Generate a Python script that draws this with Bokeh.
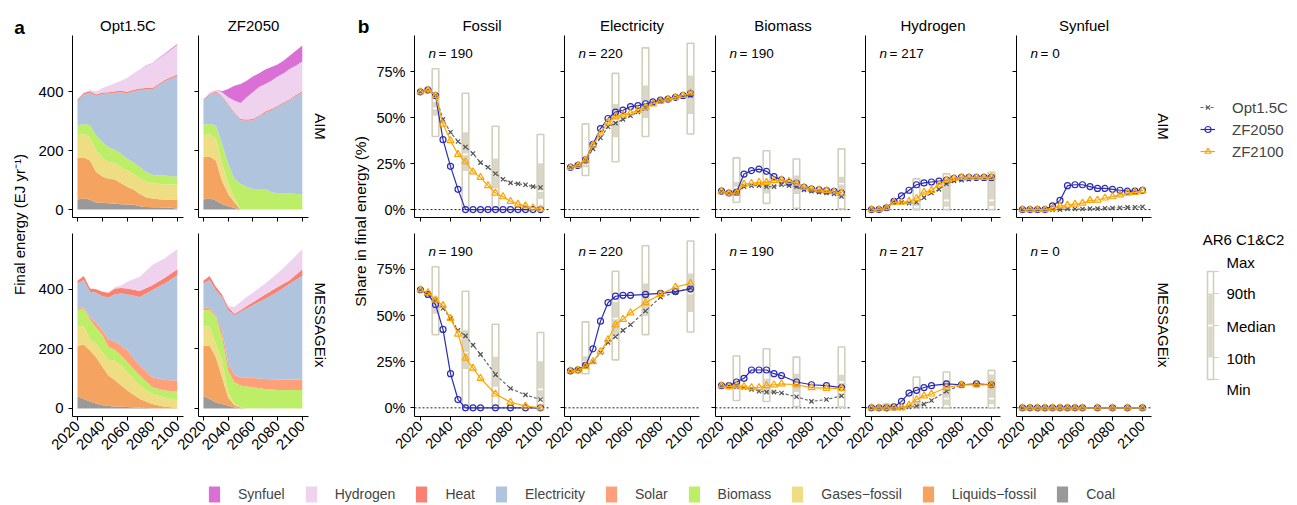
import math
from bokeh.plotting import figure
from bokeh.layouts import row, column
from bokeh.models import (ColumnDataSource, Label, Span, FixedTicker, Legend,
                          LegendItem, Range1d, PrintfTickFormatter, Title)
from bokeh.core.properties import value
from bokeh.embed import file_html
from bokeh.resources import INLINE

FONT = "Liberation Sans"

# ---------------------------------------------------------------- data
YEARS_AIM = [2020, 2025, 2030, 2035, 2040, 2045, 2050, 2055, 2060, 2065,
             2070, 2075, 2080, 2085, 2090, 2095, 2100]
YEARS_MSG = [2020, 2025, 2030, 2035, 2040, 2045, 2050, 2055, 2060, 2070,
             2080, 2090, 2100]

CARRIERS = ["Coal", "Liquids\u2212fossil", "Gases\u2212fossil", "Biomass", "Solar",
            "Electricity", "Heat", "Hydrogen", "Synfuel"]
CARRIER_COLORS = ["#999999", "#F4A460", "#EEDD82", "#BCEE68", "#FFA07A",
                  "#B0C4DE", "#FA8072", "#EED2EE", "#DA70D6"]
LEGEND_ORDER = ["Synfuel", "Hydrogen", "Heat", "Electricity", "Solar", "Biomass",
                "Gases\u2212fossil", "Liquids\u2212fossil", "Coal"]

# final energy by carrier (EJ/yr), panel a
AIM_OPT_COAL = [34, 38, 33, 24, 23, 21, 20, 18, 17, 16, 11, 9, 8, 8, 7, 6, 3]
AIM_OPT_LIQ = [141, 139, 133, 103, 89, 83, 82, 71, 59, 52, 42, 33, 29, 27, 27, 27, 29]
AIM_OPT_GAS = [76, 79, 79, 73, 65, 56, 56, 54, 56, 53, 53, 53, 52, 52, 51, 52, 52]
AIM_OPT_BIO = [34, 34, 42, 51, 51, 51, 44, 46, 40, 39, 37, 32, 29, 28, 30, 28, 27]
AIM_OPT_SOL = [0, 0, 0, 0, 0, 0, 0, 0, 0, 0, 0, 0, 0, 0, 0, 0, 0]
AIM_OPT_ELE = [83, 100, 109, 134, 164, 182, 194, 209, 222, 241, 262, 280, 289, 306, 319, 331, 342]
AIM_OPT_HEA = [5, 5, 5, 5, 5, 5, 5, 5, 5, 5, 5, 5, 5, 5, 5, 5, 5]
AIM_OPT_H2 = [0, 2, 4, 10, 15, 22, 27, 34, 48, 56, 65, 75, 84, 86, 87, 93, 100]
AIM_OPT_SYN = [0, 0, 0, 0, 0, 0, 0, 0, 0, 0, 0, 1, 1, 2, 2, 3, 3]

AIM_ZF_COAL = [34, 38, 31, 19, 11, 5, 0, 0, 0, 0, 0, 0, 0, 0, 0, 0, 0]
AIM_ZF_LIQ = [143, 142, 135, 79, 42, 20, 0, 0, 0, 0, 0, 0, 0, 0, 0, 0, 0]
AIM_ZF_GAS = [74, 76, 74, 60, 35, 15, 0, 0, 0, 0, 0, 0, 0, 0, 0, 0, 0]
AIM_ZF_BIO = [37, 34, 45, 65, 67, 64, 87, 76, 70, 70, 70, 59, 55, 55, 55, 53, 51]
AIM_ZF_SOL = [0, 0, 0, 0, 0, 0, 0, 0, 0, 0, 0, 0, 0, 0, 0, 0, 0]
AIM_ZF_ELE = [82, 98, 112, 159, 199, 222, 216, 225, 233, 245, 258, 278, 294, 305, 316, 332, 346]
AIM_ZF_HEA = [4, 4, 4, 4, 4, 4, 4, 4, 4, 4, 4, 4, 4, 4, 4, 4, 4]
AIM_ZF_H2 = [0, 6, 5, 12, 23, 40, 54, 76, 91, 96, 94, 96, 98, 98, 102, 99, 101]
AIM_ZF_SYN = [0, 0, 0, 3, 28, 50, 65, 56, 53, 47, 49, 46, 41, 43, 45, 51, 54]

MSG_OPT_COAL = [41, 32, 23, 17, 11, 8, 7, 6, 5, 2, 1, 0, 0]
MSG_OPT_LIQ = [169, 183, 172, 155, 128, 102, 89, 71, 55, 30, 14, 6, 2]
MSG_OPT_GAS = [66, 61, 39, 45, 50, 53, 65, 67, 62, 45, 33, 31, 26]
MSG_OPT_BIO = [54, 60, 65, 55, 57, 43, 36, 34, 33, 33, 23, 23, 29]
MSG_OPT_SOL = [6, 5, 8, 15, 17, 26, 29, 34, 40, 34, 34, 36, 37]
MSG_OPT_ELE = [84, 91, 85, 102, 114, 141, 158, 174, 189, 231, 293, 324, 354]
MSG_OPT_HEA = [9, 13, 11, 12, 15, 16, 19, 19, 19, 20, 16, 19, 20]
MSG_OPT_H2 = [0, 0, 0, 0, 0, 2, 4, 9, 23, 48, 68, 66, 67]
MSG_OPT_SYN = [0, 0, 0, 0, 0, 0, 0, 0, 0, 0, 0, 0, 0]

MSG_ZF_COAL = [41, 32, 20, 15, 9, 3, 0, 0, 0, 0, 0, 0, 0]
MSG_ZF_LIQ = [169, 180, 152, 90, 28, 9, 3, 0, 0, 0, 0, 0, 0]
MSG_ZF_GAS = [66, 64, 45, 56, 17, 5, 0, 0, 0, 0, 0, 0, 0]
MSG_ZF_BIO = [54, 56, 91, 79, 73, 71, 74, 74, 71, 65, 62, 62, 62]
MSG_ZF_SOL = [6, 9, 5, 23, 23, 26, 28, 29, 32, 34, 35, 35, 35]
MSG_ZF_ELE = [84, 91, 85, 112, 180, 199, 219, 233, 244, 270, 295, 323, 349]
MSG_ZF_HEA = [9, 13, 11, 8, 10, 5, 6, 8, 10, 14, 16, 12, 22]
MSG_ZF_H2 = [0, 0, 0, 0, 4, 23, 28, 31, 32, 37, 46, 61, 67]
MSG_ZF_SYN = [0, 0, 0, 0, 0, 0, 0, 0, 0, 0, 0, 0, 0]

# shares in final energy (%), panel b
SCENARIOS = ["Opt1.5C", "ZF2050", "ZF2100"]
AIM_FOSSIL = {"Opt1.5C": [64, 65, 62, 49, 42, 37, 34, 30.5, 25.5, 23, 19.5, 16.5, 14.5, 14, 13.5, 12.5, 12],
              "ZF2050": [64, 65, 62, 38, 23.5, 11, 0, 0, 0, 0, 0, 0, 0, 0, 0, 0, 0],
              "ZF2100": [64, 65, 62, 46.5, 37.5, 30, 26, 20.5, 17.5, 13, 9, 7, 4.5, 3, 2, 1, 0.3]}
AIM_ELEC = {"Opt1.5C": [23, 24, 26.5, 33, 39, 45, 47, 49, 51, 53, 55, 57.5, 59, 60, 61, 61.5, 62],
            "ZF2050": [23, 24, 27, 35.5, 44, 49.5, 53, 54, 56, 56.5, 57.5, 58.5, 59.5, 60, 61, 62, 63],
            "ZF2100": [23, 24, 27, 35, 41.5, 47.5, 50.5, 51.5, 52.5, 54, 55.5, 57.5, 59, 60, 61, 62, 63.5]}
AIM_BIO = {"Opt1.5C": [10, 9, 9, 12.5, 13, 13, 12.5, 12.5, 13.5, 13, 12.5, 10.7, 10, 9.5, 9, 8.5, 7.2],
           "ZF2050": [10, 9, 9.4, 19.3, 21.2, 22, 20.8, 17.9, 16.1, 14.8, 14.3, 12.1, 11.2, 10.7, 10.3, 9.9, 9],
           "ZF2100": [10, 9, 9, 13.9, 14.3, 14.8, 14.8, 15.7, 16.1, 15.4, 14.3, 12.1, 11.2, 10.7, 10.3, 9.7, 8.9]}
AIM_H2 = {"Opt1.5C": [0, 0, 1, 4, 4, 3.5, 4, 6.5, 9, 11, 14, 15.5, 16, 16.5, 17, 17, 17],
          "ZF2050": [0, 0, 1, 4.5, 7.5, 10.5, 13.5, 14.5, 15, 15.5, 16, 17, 17.5, 17.5, 17.5, 17.5, 17.5],
          "ZF2100": [0, 0, 1, 4, 4, 4.5, 6, 9.5, 10.5, 13.5, 16, 17, 17.5, 17.5, 17.5, 17.5, 17.5]}
AIM_SYN = {"Opt1.5C": [0, 0, 0, 0, 0, 0, 0.3, 0.3, 0.3, 0.5, 0.5, 0.7, 0.9, 1, 1.2, 1.3, 1.5],
           "ZF2050": [0, 0, 0, 0, 2, 5, 13, 13.5, 13.5, 12.5, 11.5, 11.5, 11, 10.5, 10, 10, 10.5],
           "ZF2100": [0, 0, 0, 0, 0.7, 2, 2.5, 3, 3.5, 5, 5.2, 6.3, 7, 8, 9, 9.4, 10.3]}

MSG_FOSSIL = {"Opt1.5C": [64, 62, 58.5, 54, 48.5, 42, 39, 34, 29, 18, 10.5, 7, 4.5],
              "ZF2050": [64, 61.5, 56, 42.5, 18.5, 4.5, 0, 0, 0, 0, 0, 0, 0],
              "ZF2100": [64, 62.5, 58.5, 55.5, 48.5, 40, 27, 21.5, 16, 7.5, 3, 1, 0]}
MSG_ELEC = {"Opt1.5C": [20, 21, 22.5, 25, 30, 35.5, 38.5, 42, 45, 52.5, 60, 62.5, 65],
            "ZF2050": [20, 20.5, 23, 32, 47, 57, 60.5, 61, 61, 61.5, 62, 63, 64.5],
            "ZF2100": [20, 20.5, 22.5, 25, 30.5, 37, 45, 48, 51.5, 57, 61.5, 65.5, 67.5]}
MSG_BIO = {"Opt1.5C": [12, 11.5, 11.5, 11, 10, 9, 8.5, 8.5, 8, 6, 3.5, 4.5, 6.5],
           "ZF2050": [12, 12, 14, 16, 20.5, 20.5, 20.5, 18.5, 17.5, 14, 12.5, 12, 11],
           "ZF2100": [12, 11.5, 12, 11.5, 11, 11, 12, 12.5, 13, 12.5, 11, 10.5, 10.5]}
MSG_H2 = {"Opt1.5C": [0, 0, 0, 0, 0, 0.5, 1, 2, 4, 9, 12.5, 12.5, 12.5],
          "ZF2050": [0, 0, 0, 0.5, 3.5, 8, 9.5, 11, 12, 13, 12.5, 13, 12.5],
          "ZF2100": [0, 0, 0, 0, 0, 1.5, 4.5, 6.5, 7.5, 11, 12.5, 12.5, 12.5]}
MSG_SYN = {"Opt1.5C": [0, 0, 0, 0, 0, 0, 0, 0, 0, 0, 0, 0, 0],
           "ZF2050": [0, 0, 0, 0, 0, 0, 0, 0, 0, 0, 0, 0, 0],
           "ZF2100": [0, 0, 0, 0, 0, 0, 0, 0, 0, 0, 0, 0, 0]}

# AR6 C1&C2 ranges (%)
BOX_FOSSIL = {"year": [2030, 2050, 2070, 2100], "min": [39.7, 1.3, 1.3, 0.5],
              "p10": [51, 21, 11.4, 5.8], "med": [55, 30, 18.5, 10],
              "p90": [58.5, 42, 27.7, 25.2], "max": [76.5, 63.2, 45.3, 40.8]}
BOX_ELEC = {"year": [2030, 2050, 2070, 2100], "min": [18.5, 26, 39.7, 41.1],
            "p10": [23, 39.3, 49.8, 52], "med": [25, 48.4, 58.3, 62],
            "p90": [28, 57.4, 67.4, 72.8], "max": [46.6, 74, 87.9, 90.4]}
BOX_BIO = {"year": [2030, 2050, 2070, 2100], "min": [4, 3.4, 0.7, 0.4],
           "p10": [10, 8.7, 8.5, 10.3], "med": [12, 12, 13, 14],
           "p90": [15, 15.8, 18.5, 17.9], "max": [28.1, 32, 27.5, 33]}
BOX_H2 = {"year": [2030, 2050, 2070, 2100], "min": [0, 0, 0, 0],
          "p10": [0, 0.5, 1.5, 2], "med": [0.3, 1.5, 5, 5],
          "p90": [1, 3.5, 15, 18], "max": [2, 16.7, 19.4, 20.3]}

B_TITLES = ["Fossil", "Electricity", "Biomass", "Hydrogen", "Synfuel"]
N_COUNTS = [190, 220, 190, 217, 0]
B_BOXES = [BOX_FOSSIL, BOX_ELEC, BOX_BIO, BOX_H2, None]

X_TICKS = [2020, 2040, 2060, 2080, 2100]
A_Y_TICKS = [0, 200, 400]
B_Y_TICKS = [0, 25, 50, 75]

# ---------------------------------------------------------------- style / layout
BOX_LINE = "#D3CFBD"
BOX_FILL = "#DAD7C8"
STYLE = {"Opt1.5C": dict(line="#6E6E6E", mcolor="#555555", marker="x", size=6, dash="3 2"),
         "ZF2050": dict(line="#2B2BB5", mcolor="#2B2BB5", marker="circle", size=6, dash="solid"),
         "ZF2100": dict(line="#FFA500", mcolor="#FFA500", marker="triangle", size=7, dash="solid")}

TOP_T, TOP_FH, TOP_B = 35, 182, 13
BOT_T, BOT_FH, BOT_B = 3, 183, 50
A_FW, B_FW = 111, 135
A_X = (2016, 2105)
B_X = (2016, 2106)
A_Y = [(-27, 590), (-27, 588)]
B_Y = [(-4.3, 94.6), (-4.7, 94.5)]
A_LR = [(38, 7), (8, 23)]
B_LR = [(42, 7), (8, 7), (9, 7), (8, 8), (8, 34)]
ROWS_TBH = [(TOP_T, TOP_FH, TOP_B), (BOT_T, BOT_FH, BOT_B)]
A_SPILL = 24   # room for rotated year labels reaching into the left neighbour
B_SPILL = 22


def base_fig(w, h, xr, yr, l, r, t, b, axes=True, transparent=False, spill=0):
    kw = {} if axes else dict(x_axis_type=None, y_axis_type=None)
    if spill:
        kw["styles"] = {"margin-left": "-%dpx" % spill}
    p = figure(width=w + spill, height=h, x_range=Range1d(*xr), y_range=Range1d(*yr),
               output_backend="svg", toolbar_location=None,
               min_border_left=l + spill, min_border_right=r, min_border_top=t,
               min_border_bottom=b, **kw)
    p.outline_line_color = None
    if transparent:
        p.border_fill_color = None
        p.background_fill_color = None
    else:
        p.border_fill_color = "white"
        p.background_fill_color = "white"
    if axes:
        p.grid.visible = False
    return p


def style_axes(p, show_x, show_y, font_size):
    for ax in (p.xaxis[0], p.yaxis[0]):
        ax.axis_line_color = "black"
        ax.axis_line_width = 1
        ax.major_tick_line_color = "black"
        ax.major_tick_out = 4
        ax.major_tick_in = 0
        ax.minor_tick_line_color = None
        ax.major_label_text_font = FONT
        ax.major_label_text_color = "black"
        ax.major_label_text_font_size = font_size
        ax.major_label_standoff = 5
    if show_x:
        p.xaxis.major_label_orientation = math.pi / 4
        p.xaxis.major_label_standoff = 3
    else:
        p.xaxis.major_label_text_color = None
        p.xaxis.major_label_text_font_size = "1px"
        p.xaxis.major_label_standoff = 0
    if not show_y:
        p.yaxis.major_label_text_color = None
        p.yaxis.major_label_text_font_size = "1px"
        p.yaxis.major_label_standoff = 0


def label(p, x, y, text, size="15px", align="center", baseline="middle", angle=0.0, style="normal"):
    p.add_layout(Label(x=x, y=y, text=text, text_font=FONT, text_font_size=size,
                       text_align=align, text_baseline=baseline, angle=angle,
                       text_font_style=style, text_color="black"))


def col_title(p, text):
    p.add_layout(Title(text=text, align="center", vertical_align="middle", standoff=2,
                       text_font=FONT, text_font_size="15px", text_font_style="normal",
                       text_color="black"), "above")


def row_title(p, text):
    p.add_layout(Title(text=text, align="center", vertical_align="middle", standoff=5,
                       text_font=FONT, text_font_size="15px", text_font_style="normal",
                       text_color="black"), "right")


def px(rng, frame, n):
    return (rng[1] - rng[0]) * n / frame


# ---------------------------------------------------------------- panel a
A_DATA = [
    [(YEARS_AIM, [AIM_OPT_COAL, AIM_OPT_LIQ, AIM_OPT_GAS, AIM_OPT_BIO, AIM_OPT_SOL,
                  AIM_OPT_ELE, AIM_OPT_HEA, AIM_OPT_H2, AIM_OPT_SYN]),
     (YEARS_AIM, [AIM_ZF_COAL, AIM_ZF_LIQ, AIM_ZF_GAS, AIM_ZF_BIO, AIM_ZF_SOL,
                  AIM_ZF_ELE, AIM_ZF_HEA, AIM_ZF_H2, AIM_ZF_SYN])],
    [(YEARS_MSG, [MSG_OPT_COAL, MSG_OPT_LIQ, MSG_OPT_GAS, MSG_OPT_BIO, MSG_OPT_SOL,
                  MSG_OPT_ELE, MSG_OPT_HEA, MSG_OPT_H2, MSG_OPT_SYN]),
     (YEARS_MSG, [MSG_ZF_COAL, MSG_ZF_LIQ, MSG_ZF_GAS, MSG_ZF_BIO, MSG_ZF_SOL,
                  MSG_ZF_ELE, MSG_ZF_HEA, MSG_ZF_H2, MSG_ZF_SYN])],
]
A_TITLES = ["Opt1.5C", "ZF2050"]
ROW_NAMES = ["AIM", "MESSAGEix"]

a_rows = []
for i in range(2):
    t, fh, b = ROWS_TBH[i]
    yr = A_Y[i]
    figs = []
    for j in range(2):
        l, r = A_LR[j]
        spill = A_SPILL if (i == 1 and j > 0) else 0
        p = base_fig(l + A_FW + r, t + fh + b, A_X, yr, l, r, t, b,
                     transparent=True, spill=spill)
        style_axes(p, show_x=(i == 1), show_y=(j == 0), font_size="15px")
        p.xaxis.ticker = FixedTicker(ticks=X_TICKS)
        p.yaxis.ticker = FixedTicker(ticks=A_Y_TICKS)
        years, layers = A_DATA[i][j]
        data = {"year": years}
        for name, vals in zip(CARRIERS, layers):
            data[name] = vals
        p.varea_stack(stackers=CARRIERS, x="year", color=CARRIER_COLORS,
                      source=ColumnDataSource(data))
        if i == 0:
            col_title(p, A_TITLES[j])
        if j == 1:
            row_title(p, ROW_NAMES[i])
        figs.append(p)
    a_rows.append(row(*figs))

# ---------------------------------------------------------------- panel b
B_DATA = [(YEARS_AIM, [AIM_FOSSIL, AIM_ELEC, AIM_BIO, AIM_H2, AIM_SYN]),
          (YEARS_MSG, [MSG_FOSSIL, MSG_ELEC, MSG_BIO, MSG_H2, MSG_SYN])]

b_rows = []
for i in range(2):
    t, fh, b = ROWS_TBH[i]
    yr = B_Y[i]
    years, carriers = B_DATA[i]
    figs = []
    for j in range(5):
        l, r = B_LR[j]
        spill = B_SPILL if (i == 1 and j > 0) else 0
        p = base_fig(l + B_FW + r, t + fh + b, B_X, yr, l, r, t, b,
                     transparent=True, spill=spill)
        style_axes(p, show_x=(i == 1), show_y=(j == 0), font_size="14.5px")
        p.xaxis.ticker = FixedTicker(ticks=X_TICKS)
        p.yaxis.ticker = FixedTicker(ticks=B_Y_TICKS)
        p.yaxis.formatter = PrintfTickFormatter(format="%d%%")
        zero = Span(location=0, dimension="width", line_color="#222222",
                    line_dash="2 2", line_width=1, level="underlay")
        p.add_layout(zero)
        bx = B_BOXES[j]
        if bx is not None:
            hw = 2.2
            src = ColumnDataSource(dict(
                left=[y - hw for y in bx["year"]], right=[y + hw for y in bx["year"]],
                ileft=[y - hw + 0.45 for y in bx["year"]], iright=[y + hw - 0.45 for y in bx["year"]],
                mn=bx["min"], p10=bx["p10"], med=bx["med"], p90=bx["p90"], mx=bx["max"]))
            p.quad(left="left", right="right", bottom="mn", top="mx", source=src,
                   fill_color="white", line_color=BOX_LINE, line_width=1.6)
            p.quad(left="ileft", right="iright", bottom="p10", top="p90", source=src,
                   fill_color=BOX_FILL, line_color=None)
            p.segment(x0="ileft", x1="iright", y0="med", y1="med", source=src,
                      line_color="white", line_width=1.6)
        series = carriers[j]
        for s in SCENARIOS:
            st = STYLE[s]
            p.line(years, series[s], line_color=st["line"], line_width=1.2,
                   line_dash=st["dash"])
            p.scatter(years, series[s], marker=st["marker"], size=st["size"],
                      line_color=st["mcolor"], fill_color=None, line_width=1.2)
        nx = B_X[0] + px(B_X, B_FW, 14)
        ny = yr[1] - px(yr, fh, 18)
        label(p, nx, ny, "n", size="13.5px", align="left", style="italic")
        label(p, nx + px(B_X, B_FW, 10), ny, "= %d" % N_COUNTS[j], size="13.5px", align="left")
        if i == 0:
            col_title(p, B_TITLES[j])
        if j == 4:
            row_title(p, ROW_NAMES[i])
        figs.append(p)
    b_rows.append(row(*figs))

# ---------------------------------------------------------------- strips with panel letters / axis titles
H_MAIN = TOP_T + TOP_FH + TOP_B + BOT_T + BOT_FH + BOT_B  # 466
strip_a = base_fig(34, H_MAIN, (0, 34), (0, H_MAIN), 0, 0, 0, 0, axes=False)
label(strip_a, 19, H_MAIN - 26.5, "a", size="19px", baseline="alphabetic", style="bold")
label(strip_a, 19, H_MAIN - 224, "Final energy (EJ yr\u207b\u00b9)", size="15px", angle=math.pi / 2)

strip_b = base_fig(40, H_MAIN, (0, 40), (0, H_MAIN), 0, 0, 0, 0, axes=False)
label(strip_b, 31, H_MAIN - 25.5, "b", size="19px", baseline="alphabetic", style="bold")
label(strip_b, 28, H_MAIN - 221, "Share in final energy (%)", size="15.5px", angle=math.pi / 2)

# ---------------------------------------------------------------- right legends
LEG_W = 112
leg = base_fig(LEG_W, H_MAIN, (0, LEG_W), (0, H_MAIN), 0, 0, 0, 0, axes=False)
items = []
for s in SCENARIOS:
    st = STYLE[s]
    # off-canvas proxies: only their legend swatches are seen
    lr = leg.line(x=[-60, -50], y=[-60, -60], line_color=st["line"], line_width=1.2,
                  line_dash=st["dash"])
    sr = leg.scatter(x=[-60], y=[-60], marker=st["marker"], size=st["size"],
                     line_color=st["mcolor"], fill_color=None, line_width=1.2)
    items.append(LegendItem(label=s, renderers=[lr, sr]))
leg.add_layout(Legend(items=items, location=(15, 305), glyph_width=15, glyph_height=20,
                      label_standoff=17, spacing=2, padding=0, margin=0,
                      border_line_color=None, background_fill_color=None,
                      label_text_font=FONT, label_text_font_size="15px"))

label(leg, 58, 227, "AR6 C1&C2", size="15px")
KEY_LEFT, KEY_RIGHT = 22, 28
KEY_LEVELS = [195, 173, 141, 109, 87]          # legend key geometry: max, p90, median, p10, min
KEY_TEXT = ["Max", "90th", "Median", "10th", "Min"]
KEY_TEXT_Y = [204, 173, 140, 108, 77]
leg.quad(left=[KEY_LEFT], right=[KEY_RIGHT], bottom=[KEY_LEVELS[4]], top=[KEY_LEVELS[0]],
         fill_color="white", line_color=BOX_LINE, line_width=1.6)
leg.quad(left=[KEY_LEFT + 0.8], right=[KEY_RIGHT - 0.8], bottom=[KEY_LEVELS[3]], top=[KEY_LEVELS[1]],
         fill_color=BOX_FILL, line_color=None)
leg.segment(x0=[KEY_LEFT + 0.8], x1=[KEY_RIGHT - 0.8], y0=[KEY_LEVELS[2]], y1=[KEY_LEVELS[2]],
            line_color="white", line_width=2)
leg.segment(x0=[KEY_RIGHT] * 5, x1=[KEY_RIGHT + 5] * 5, y0=KEY_LEVELS, y1=KEY_LEVELS,
            line_color=BOX_LINE, line_width=1)
leg.text(x=[41] * 5, y=KEY_TEXT_Y, text=KEY_TEXT, text_font=value(FONT),
         text_font_size="15px", text_baseline="middle", text_align="left", text_color="black")

# ---------------------------------------------------------------- bottom legend
BOT_H = 505 - H_MAIN
bot = base_fig(1297, BOT_H, (0, 1297), (0, BOT_H), 0, 0, 0, 0, axes=False)
bitems = []
for name in LEGEND_ORDER:
    c = CARRIER_COLORS[CARRIERS.index(name)]
    r = bot.varea(x=[-30, -20], y1=[-30, -30], y2=[-20, -20], fill_color=c)
    bitems.append(LegendItem(label=name, renderers=[r]))
bot.add_layout(Legend(items=bitems, orientation="horizontal", location=(207, 1),
                      glyph_width=14, glyph_height=20, label_standoff=17, spacing=19,
                      padding=0, margin=0, border_line_color=None,
                      background_fill_color=None, label_text_font=FONT,
                      label_text_font_size="14px"))

layout = column(
    row(strip_a, column(*a_rows), strip_b, column(*b_rows), leg),
    bot,
)

open("out.html", "w").write(file_html(layout, INLINE))
